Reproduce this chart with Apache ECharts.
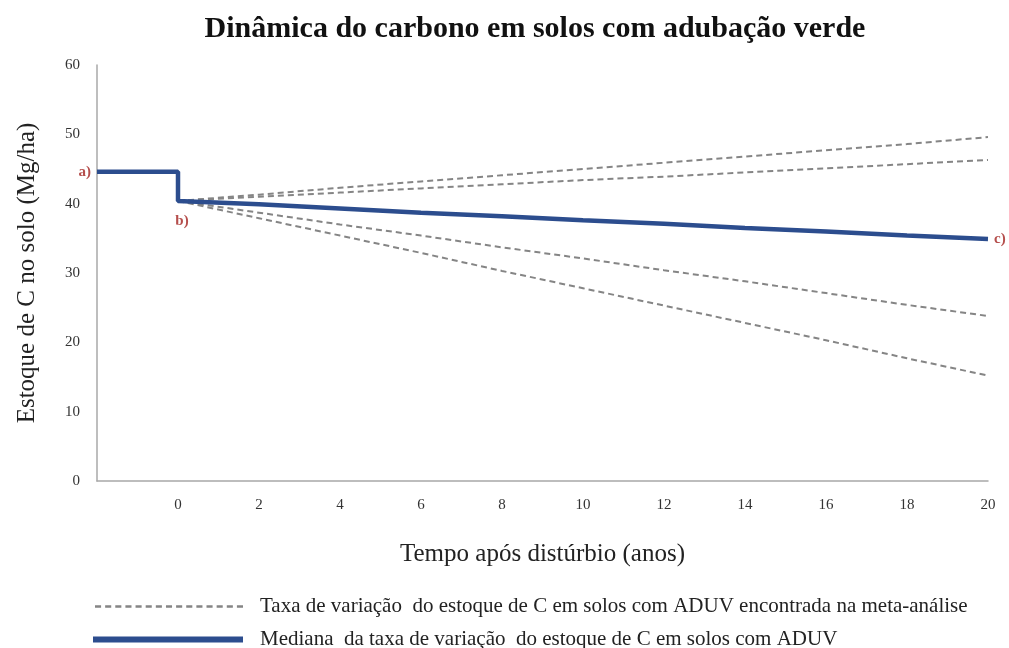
<!DOCTYPE html>
<html>
<head>
<meta charset="utf-8">
<script src="https://cdn.jsdelivr.net/npm/echarts@6/dist/echarts.min.js"></script>
<style>
  html, body { margin: 0; padding: 0; background: #fff; }
  #chart { width: 1009px; height: 648px; }
</style>
</head>
<body>
<div id="chart"></div>
<script>
// years after disturbance
const years = [0, 2, 4, 6, 8, 10, 12, 14, 16, 18, 20]
// stock before disturbance (a)
const preYears = [-2, 0]
const preStock = [44.6, 44.6]
// median rate (b -> c)
const median = [40.4, 39.9, 39.3, 38.7, 38.2, 37.6, 37.1, 36.5, 36.0, 35.4, 34.9]
// meta-analysis rates
const rateHigh = [40.4, 41.3, 42.3, 43.2, 44.1, 45.0, 45.9, 46.8, 47.7, 48.6, 49.6]
const rateMidHigh = [40.4, 41.0, 41.6, 42.2, 42.8, 43.4, 43.9, 44.5, 45.1, 45.7, 46.3]
const rateMidLow = [40.4, 38.7, 37.0, 35.4, 33.7, 32.1, 30.4, 28.8, 27.1, 25.4, 23.8]
const rateLow = [40.4, 37.9, 35.4, 32.9, 30.3, 27.8, 25.3, 22.8, 20.3, 17.7, 15.2]
const yTicks = [0, 10, 20, 30, 40, 50, 60]
// point markers a), b), c)
const markNames = ['a)', 'b)', 'c)']
const markX = [-2, 0, 20]
const markY = [44.6, 40.4, 34.9]
const markPos = ['left', 'bottom', 'right']

const dashedName = 'Taxa de variação  do estoque de C em solos com ADUV encontrada na meta-análise'
const medianName = 'Mediana  da taxa de variação  do estoque de C em solos com ADUV'
const serif = 'Liberation Serif'
const red = '#a3221f'
const blue = '#2c4d8e'
const grey = '#858585'

const pairs = (xs, ys) => xs.map((x, i) => [x, ys[i]])

// dashed legend icon: 15 short dashes
let dashPath = 'path://'
for (let i = 0; i < 15; i++) dashPath += 'M' + (i * 10) + ',0h6v2.5h-6z'

const dashed = [rateHigh, rateMidHigh, rateMidLow, rateLow].map(vals => ({
  name: dashedName,
  type: 'line',
  symbol: 'none',
  silent: true,
  lineStyle: { color: grey, width: 2, type: [6, 4] },
  itemStyle: { color: grey },
  data: pairs(years, vals)
}))

const legendText = { fontFamily: serif, fontSize: 21, color: '#222', padding: [0, 0, 0, 12] }

const option = {
  animation: false,
  backgroundColor: '#fff',
  title: {
    text: 'Dinâmica do carbono em solos com adubação verde',
    left: 530,
    top: 9,
    textAlign: 'center',
    textStyle: { fontFamily: serif, fontWeight: 'bold', fontSize: 30, color: '#111' }
  },
  grid: { left: 97, right: 21, top: 65, bottom: 167, outerBoundsMode: 'none', containLabel: false },
  legend: [{
    left: 90,
    top: 591,
    itemWidth: 148,
    itemHeight: 3,
    textStyle: legendText,
    data: [{ name: dashedName, icon: dashPath }]
  }, {
    left: 88,
    top: 624,
    itemWidth: 150,
    itemHeight: 6,
    textStyle: legendText,
    data: [{ name: medianName, icon: 'rect' }]
  }],
  xAxis: {
    type: 'value',
    min: -2,
    max: 20,
    interval: 2,
    name: 'Tempo após distúrbio (anos)',
    nameLocation: 'middle',
    nameGap: 61,
    nameTextStyle: { fontFamily: serif, fontSize: 25, color: '#222' },
    axisLine: { show: true, onZero: false, lineStyle: { color: '#a8a8a8', width: 1.5 } },
    axisTick: { show: false },
    splitLine: { show: false },
    axisLabel: {
      fontFamily: serif, fontSize: 15, color: '#333', margin: 17,
      formatter: v => (v < 0 ? '' : String(v))
    }
  },
  yAxis: {
    type: 'value',
    min: yTicks[0],
    max: yTicks[yTicks.length - 1],
    interval: 10,
    name: 'Estoque de C no solo (Mg/ha)',
    nameLocation: 'middle',
    nameGap: 57,
    nameTextStyle: { fontFamily: serif, fontSize: 25, color: '#222' },
    axisLine: { show: true, onZero: false, lineStyle: { color: '#a8a8a8', width: 1.5 } },
    axisTick: { show: false },
    splitLine: { show: false },
    axisLabel: { fontFamily: serif, fontSize: 15, color: '#333', margin: 17 }
  },
  series: dashed.concat([{
    name: medianName,
    type: 'line',
    symbol: 'none',
    z: 5,
    lineStyle: { color: blue, width: 4.5 },
    itemStyle: { color: blue },
    data: pairs(preYears, preStock).concat(pairs(years, median))
  }, {
    name: 'marks',
    type: 'scatter',
    silent: true,
    z: 6,
    symbolSize: 2,
    itemStyle: { color: 'rgba(0,0,0,0)' },
    data: markNames.map((n, i) => ({
      value: [markX[i], markY[i]],
      label: {
        show: true,
        formatter: n,
        position: markPos[i],
        distance: i === 1 ? 12 : 5,
        offset: i === 1 ? [4, 0] : [0, 0],
        color: red,
        fontFamily: serif,
        fontWeight: 'bold',
        fontSize: 15
      }
    }))
  }])
}

const chart = echarts.init(document.getElementById('chart'))
chart.setOption(option)
</script>
</body>
</html>
